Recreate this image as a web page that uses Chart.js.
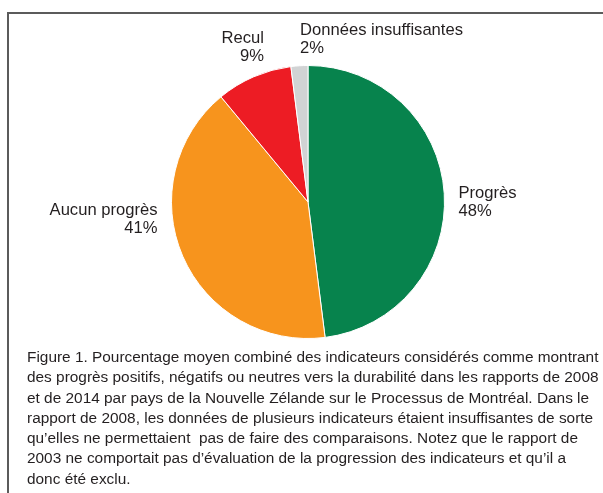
<!DOCTYPE html>
<html lang="fr">

<head>
    <meta charset="UTF-8">
    <title>Figure 1 - Processus de Montréal</title>
    <style>
        body {
            margin: 0;
            padding: 0;
            background: #fff;
            font-family: "Liberation Sans", Arial, sans-serif;
            color: #231f20;
        }

        .page {
            position: relative;
            width: 603px;
            height: 493px;
            overflow: hidden;
        }

        .frame {
            position: absolute;
            left: 7px;
            top: 12px;
            width: 700px;
            height: 600px;
            border-top: 2px solid #5b5b5b;
            border-left: 2px solid #5b5b5b;
        }

        .chart-box {
            position: absolute;
            left: 0;
            top: 0;
            width: 603px;
            height: 360px;
        }

        .caption {
            position: absolute;
            left: 27px;
            top: 347px;
            margin: 0;
            font-size: 15.4px;
            line-height: 20.3px;
            white-space: nowrap;
        }
    </style>
</head>

<body>
    <div class="page">
        <div class="frame"></div>
        <div class="chart-box">
            <canvas id="pieChart"></canvas>
        </div>
        <p class="caption">
            Figure 1. Pourcentage moyen combiné des indicateurs considérés comme montrant<br>
            des progrès positifs, négatifs ou neutres vers la durabilité dans les rapports de 2008<br>
            et de 2014 par pays de la Nouvelle Zélande sur le Processus de Montréal. Dans le<br>
            rapport de 2008, les données de plusieurs indicateurs étaient insuffisantes de sorte<br>
            qu’elles ne permettaient &nbsp;pas de faire des comparaisons. Notez que le rapport de<br>
            2003 ne comportait pas d’évaluation de la progression des indicateurs et qu’il a<br>
            donc été exclu.
        </p>
    </div>

    <script src="https://cdn.jsdelivr.net/npm/chart.js"></script>
    <script>
        // data
        const categories = ['Progrès', 'Aucun progrès', 'Recul', 'Données insuffisantes'];
        const percentages = [48, 41, 9, 2];
        const sliceColors = ['#07834d', '#f7941d', '#ed1c24', '#d1d3d4'];

        // where each label sits, relative to the pie's centre and radius
        // (rx, ry in units of radius, then a pixel nudge), plus text alignment
        const labelLayout = [
            { rx: 1, ry: 0, dx: 14, dy: -9, align: 'left' },
            { rx: -1, ry: 0, dx: -14, dy: 8, align: 'right' },
            { rx: 0, ry: -1, dx: -44, dy: -27, align: 'right' },
            { rx: 0, ry: -1, dx: -8, dy: -35, align: 'left' }
        ];

        const sliceLabels = {
            id: 'sliceLabels',
            afterDraw(chart) {
                const ctx = chart.ctx;
                const arcs = chart.getDatasetMeta(0).data;
                ctx.save();
                ctx.font = '16.6px "Liberation Sans", Arial, sans-serif';
                ctx.fillStyle = '#231f20';
                ctx.textBaseline = 'middle';
                arcs.forEach((arc, i) => {
                    const lay = labelLayout[i];
                    const r = arc.outerRadius;
                    const x = arc.x + lay.rx * r + lay.dx;
                    const y = arc.y + lay.ry * r + lay.dy;
                    ctx.textAlign = lay.align;
                    ctx.fillText(categories[i], x, y);
                    ctx.fillText(percentages[i] + '%', x, y + 18);
                });
                ctx.restore();
            }
        };

        const ctx = document.getElementById('pieChart').getContext('2d');
        new Chart(ctx, {
            type: 'pie',
            data: {
                labels: categories,
                datasets: [{
                    data: percentages,
                    backgroundColor: sliceColors,
                    borderColor: '#ffffff',
                    borderWidth: 1
                }]
            },
            options: {
                responsive: true,
                maintainAspectRatio: false,
                animation: false,
                layout: {
                    padding: { top: 65, bottom: 21, left: 13, right: 0 }
                },
                plugins: {
                    legend: { display: false },
                    tooltip: { enabled: false }
                }
            },
            plugins: [sliceLabels]
        });
    </script>
</body>

</html>
